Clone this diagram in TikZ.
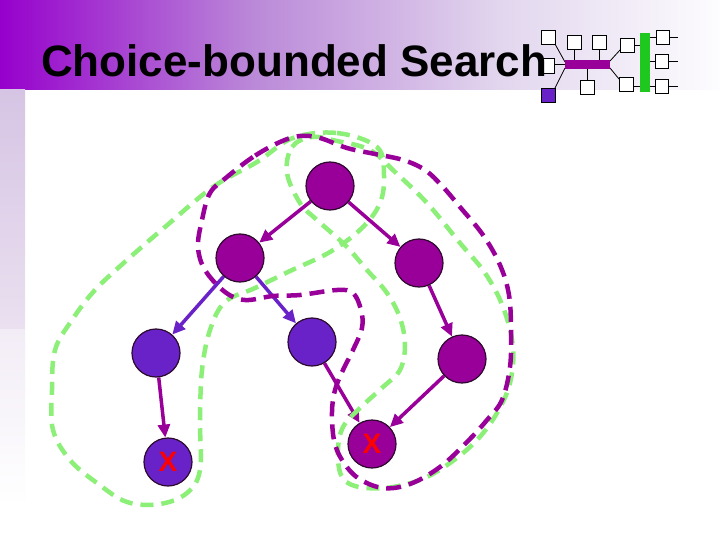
\documentclass[tikz,border=0pt]{standalone}
\usepackage{fontspec}
\setmainfont{Liberation Sans}
\usetikzlibrary{arrows.meta,backgrounds}
\definecolor{mag}{RGB}{153,0,153}
\definecolor{vio}{RGB}{104,34,200}
\definecolor{lgreen}{RGB}{140,240,120}
\definecolor{rimc}{RGB}{45,10,45}
\definecolor{bandA}{RGB}{150,0,204}
\definecolor{bandB}{RGB}{186,136,216}
\definecolor{bandC}{RGB}{226,214,238}
\definecolor{bandD}{RGB}{253,252,254}
\definecolor{stripA}{RGB}{214,196,228}
\definecolor{stripB}{RGB}{234,224,240}
\definecolor{stripC}{RGB}{242,236,246}
\definecolor{logogreen}{RGB}{30,200,30}
\tikzset{
  magnode/.style={circle,minimum size=48pt,inner sep=0pt,fill=mag,draw=rimc,line width=1.2pt},
  vionode/.style={circle,minimum size=48pt,inner sep=0pt,fill=vio,draw=rimc,line width=1.2pt},
  xnode/.style={text=red,font=\fontsize{28}{30}\selectfont\bfseries},
  magedge/.style={draw=mag,line width=3.5pt,-{Triangle[length=13pt,width=12pt]}},
  vioedge/.style={draw=vio,line width=3.5pt,-{Triangle[length=13pt,width=12pt]}},
  gdash/.style={draw=lgreen,line width=4.5pt,dash pattern=on 13pt off 8pt},
  pdash/.style={draw=mag,line width=4.5pt,dash pattern=on 15pt off 8pt},
  logosq/.style={fill=white,draw=black,line width=0.8pt},
  logoline/.style={draw=black,line width=0.8pt}
}
\begin{document}
\begin{tikzpicture}[x=1pt,y=-1pt]
\useasboundingbox (0,0) rectangle (720,540);
% title
\node[anchor=base west,inner sep=0pt,font=\fontsize{44}{50}\selectfont\bfseries] (title) at (41,77) {Choice-bounded Search};
% nodes
\node[magnode] (A) at (330,186) {};
\node[magnode] (B) at (240,258) {};
\node[magnode] (C) at (419,263) {};
\node[vionode] (D) at (156,353) {};
\node[vionode] (E) at (312,342) {};
\node[magnode] (F) at (462,359) {};
\node[vionode,xnode] (G) at (168,462) {X};
\node[magnode,xnode] (H) at (372,444) {X};
\begin{scope}[on background layer]
\fill[white] (0,0) rectangle (720,540);
% title band
\shade[left color=bandA,right color=bandB] (0,0) rectangle (250,90);
\shade[left color=bandB,right color=bandC] (250,0) rectangle (500,90);
\shade[left color=bandC,right color=bandD] (500,0) rectangle (720,90);
% left strip
\shade[top color=stripA,bottom color=stripB] (0,90) rectangle (25,328);
\shade[top color=stripC,bottom color=white] (0,329) rectangle (25,505);
% logo
\draw[logoline] (555,44) -- (565,62);
\draw[logoline] (554,64) -- (565,64);
\draw[logoline] (555,88) -- (565,68);
\draw[logoline] (574,49) -- (574,60);
\draw[logoline] (599,49) -- (599,60);
\draw[logoline] (587,69) -- (587,80);
\draw[logoline] (610,61) -- (620,50);
\draw[logoline] (610,68) -- (619,79);
\draw[logoline] (634,45) -- (640,45);
\draw[logoline] (633,86) -- (640,86);
\draw[logoline] (647,37) -- (678,37);
\draw[logoline] (647,61) -- (678,61);
\draw[logoline] (647,86) -- (678,86);
\filldraw[logosq] (541,30) rectangle (555,44);
\filldraw[logosq] (541,58) rectangle (554,73);
\filldraw[fill=vio,draw=black,line width=0.8pt] (541,88) rectangle (555,102);
\filldraw[logosq] (567,35) rectangle (581,49);
\filldraw[logosq] (592,35) rectangle (606,49);
\filldraw[logosq] (580,80) rectangle (594,94);
\filldraw[logosq] (620,38) rectangle (634,52);
\filldraw[logosq] (619,77) rectangle (633,91);
\filldraw[logosq] (656,30) rectangle (669,44);
\filldraw[logosq] (655,54) rectangle (668,68);
\filldraw[logosq] (655,79) rectangle (668,93);
\fill[mag] (565,60) rectangle (610,69);
\fill[logogreen] (640,33) rectangle (650,92);
% edges
\draw[magedge] (A) -- (B);
\draw[magedge] (A) -- (C);
\draw[vioedge] (B) -- (D);
\draw[vioedge] (B) -- (E);
\draw[magedge] (D) -- (G);
\draw[magedge] (E) -- (H);
\draw[magedge] (C) -- (F);
\draw[magedge] (F) -- (H);
% dashed loops
\draw[gdash] plot[smooth cycle,tension=0.6] coordinates {
 (293,138) (337,133) (377,147) (384,175) (380,203) (362,228) (330,252)
 (290,271) (255,288) (225,302) (210,330) (202,370) (200,420) (200,470)
 (187,493) (160,504) (127,502) (97,483) (70,460) (53,430) (52,390)
 (55,350) (72,320) (95,290) (127,260) (165,227) (213,187) (257,162)};
\draw[gdash] plot[smooth cycle,tension=0.6] coordinates {
 (287,173) (292,147) (312,137) (337,141) (370,150) (395,172) (427,203)
 (460,243) (485,273) (503,307) (513,347) (510,383) (497,413) (477,440)
 (450,463) (420,480) (385,488) (355,486) (341,475) (338,450) (343,427)
 (360,408) (383,387) (400,370) (405,345) (400,318) (387,293) (367,270)
 (345,245) (317,220) (300,203)};
\draw[pdash] plot[smooth cycle,tension=0.6] coordinates {
 (280,142) (253,157) (227,177) (210,193) (202,220) (198,247) (205,270)
 (225,292) (245,300) (273,296) (300,295) (337,290) (353,293) (361,310)
 (362,328) (353,350) (343,370) (335,390) (332,412) (334,440) (342,460)
 (358,478) (383,488) (410,484) (440,467) (467,442) (487,420) (502,400)
 (510,367) (511,330) (509,295) (500,265) (483,235) (460,207) (443,187)
 (425,170) (403,160) (375,154) (347,148) (320,138) (300,136)};
\end{scope}
\end{tikzpicture}
\end{document}
